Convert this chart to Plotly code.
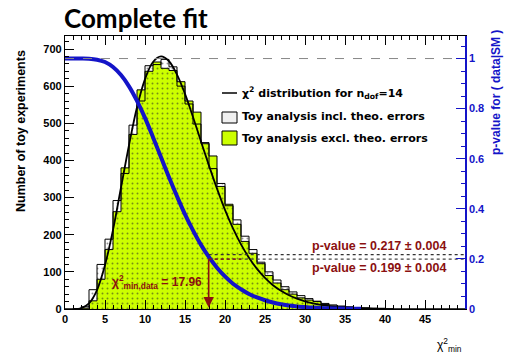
import plotly.graph_objects as go

# ---- data -------------------------------------------------------------
bin_edges = list(range(0, 51))

# toy analysis excluding theoretical errors (counts per unit bin)
counts_excl = [0, 0, 2, 22, 80, 160, 262, 380, 470, 590,
               640, 665, 648, 642, 612, 560, 530, 445, 412, 330,
               282, 228, 182, 150, 122, 90, 70, 52, 40, 30,
               24, 20, 12, 8, 6, 4, 3, 2, 1, 1,
               0, 0, 0, 0, 0, 0, 0, 0, 0, 0]

# toy analysis including theoretical errors
counts_incl = [0, 1, 6, 52, 120, 188, 292, 365, 495, 560,
               655, 658, 672, 652, 600, 552, 498, 448, 378, 338,
               278, 240, 196, 160, 126, 100, 78, 60, 46, 36,
               28, 21, 15, 11, 8, 6, 4, 3, 2, 1,
               1, 0, 0, 0, 0, 0, 0, 0, 0, 0]

# chi2 distribution for ndof = 14, normalised to the toys
chi2_x = list(range(1, 41))
chi2_y = [0.1, 2, 15, 51, 118, 213, 327, 441, 543, 619,
          665, 680, 667, 631, 579, 517, 451, 386, 324, 267,
          217, 174, 138, 108, 84, 64, 49, 37, 28, 20.5,
          15, 11, 8, 5.9, 4.2, 3, 2.2, 1.5, 1.1, 0.8]

# p-value as a function of chi2_min
pval_x = list(range(0, 38))
pval_y = [1.0, 1.0, 1.0, 0.9994, 0.9955, 0.986, 0.966, 0.934, 0.889, 0.831,
          0.763, 0.686, 0.606, 0.526, 0.450, 0.378, 0.314, 0.256, 0.207, 0.165,
          0.130, 0.101, 0.079, 0.060, 0.046, 0.035, 0.026, 0.019, 0.014, 0.010,
          0.0076, 0.0055, 0.004, 0.0029, 0.002, 0.0014, 0.001, 0.0007]

chi2_data = 17.96
pvalue_incl = 0.217
pvalue_excl = 0.199
pvalue_err = 0.004

x_ticks = list(range(0, 50, 5))
y_ticks = list(range(0, 800, 100))
y2_ticks = [0, 0.2, 0.4, 0.6, 0.8, 1.0]
y2_labels = ["0", "0.2", "0.4", "0.6", "0.8", "1"]

# ---- style ------------------------------------------------------------
FONT = "Liberation Sans"
WIDE = "DejaVu Sans"
GREEN = "#ccff00"
BLUE = "#1414c8"
DARKRED = "#8b1010"

W, H = 506, 356
L, R, T, B = 65, 41, 36, 47


def px(xp):
    return (xp - L) / (W - L - R)


def py(yp):
    return (H - B - yp) / (H - T - B)


fig = go.Figure()

# step histograms: repeat last value so the final bin closes
fig.add_trace(go.Scatter(
    x=bin_edges, y=counts_excl + [counts_excl[-1]], mode="lines",
    line=dict(shape="hv", color="black", width=1),
    fill="tozeroy", fillcolor=GREEN, showlegend=False, hoverinfo="skip"))

fig.add_trace(go.Scatter(
    x=bin_edges, y=counts_incl + [counts_incl[-1]], mode="lines",
    line=dict(shape="hv", color="black", width=1),
    fill="tozeroy", fillcolor="rgba(0,0,0,0)",
    fillpattern=dict(shape=".", fgcolor="#222222", bgcolor="rgba(0,0,0,0)",
                     size=5, solidity=0.12),
    showlegend=False, hoverinfo="skip"))

fig.add_trace(go.Scatter(
    x=chi2_x, y=chi2_y, mode="lines",
    line=dict(color="black", width=1.8, shape="spline"),
    showlegend=False, hoverinfo="skip"))

fig.add_trace(go.Scatter(
    x=pval_x, y=pval_y, yaxis="y2", mode="lines",
    line=dict(color=BLUE, width=4, shape="spline"),
    showlegend=False, hoverinfo="skip"))

# reference lines on the p-value axis
fig.add_trace(go.Scatter(
    x=[0, 50], y=[1, 1], yaxis="y2", mode="lines",
    line=dict(color="#888888", width=1, dash="dash"),
    showlegend=False, hoverinfo="skip"))
fig.add_trace(go.Scatter(
    x=[chi2_data, 50], y=[pvalue_incl, pvalue_incl], yaxis="y2", mode="lines",
    line=dict(color="#333333", width=1.2, dash="dot"),
    showlegend=False, hoverinfo="skip"))
fig.add_trace(go.Scatter(
    x=[chi2_data, 50], y=[pvalue_excl, pvalue_excl], yaxis="y2", mode="lines",
    line=dict(color="#444444", width=1.2, dash="dot"),
    showlegend=False, hoverinfo="skip"))
fig.add_trace(go.Scatter(
    x=[chi2_data, 22], y=[pvalue_excl, pvalue_excl], yaxis="y2", mode="lines",
    line=dict(color=DARKRED, width=1.2, dash="dot"),
    showlegend=False, hoverinfo="skip"))

tick_font = dict(family=FONT, size=11, color="black", weight="bold")

fig.update_layout(
    width=W, height=H,
    margin=dict(l=L, r=R, t=T, b=B),
    paper_bgcolor="white", plot_bgcolor="white",
    showlegend=False,
    xaxis=dict(
        range=[0, 50], tickvals=x_ticks, ticks="inside", ticklen=9,
        tickcolor="black", tickwidth=1, showline=True, linecolor="black",
        linewidth=1.2, mirror="ticks", showgrid=False, zeroline=False,
        tickfont=tick_font,
        minor=dict(dtick=1, ticks="inside", ticklen=4, tickcolor="black",
                   showgrid=False)),
    yaxis=dict(
        range=[0, 735], tickvals=y_ticks, ticks="inside", ticklen=9,
        tickcolor="black", showline=True, linecolor="black", linewidth=1.2,
        showgrid=False, zeroline=False, tickfont=tick_font,
        minor=dict(dtick=20, ticks="inside", ticklen=4, tickcolor="black",
                   showgrid=False)),
    yaxis2=dict(
        overlaying="y", side="right", range=[0, 1.09],
        tickvals=y2_ticks, ticktext=y2_labels, ticks="inside", ticklen=9,
        tickcolor=BLUE, showline=True, linecolor=BLUE, linewidth=1.5,
        showgrid=False, zeroline=False,
        tickfont=dict(family=FONT, size=11, color=BLUE, weight="bold"),
        minor=dict(dtick=0.05, ticks="inside", ticklen=4, tickcolor=BLUE,
                   showgrid=False)),
)

ann = []
ann.append(dict(text="<b>Complete fit</b>", x=px(62), y=py(18), xref="paper",
                yref="paper", xanchor="left", yanchor="middle",
                showarrow=False, font=dict(family="Lato", size=26, color="black")))
ann.append(dict(text="Number of toy experiments", x=px(21), y=py(131),
                xref="paper", yref="paper", textangle=-90, showarrow=False,
                xanchor="center", yanchor="middle",
                font=dict(family=FONT, size=12.5, color="black", weight="bold")))
ann.append(dict(text="p-value for ( data|SM )", x=px(496), y=py(92),
                xref="paper", yref="paper", textangle=-90, showarrow=False,
                xanchor="center", yanchor="middle",
                font=dict(family=FONT, size=12, color=BLUE, weight="bold")))
ann.append(dict(text="χ<sup>2</sup><sub>min</sub>", x=px(449), y=py(345),
                xref="paper", yref="paper", showarrow=False,
                xanchor="center", yanchor="middle",
                font=dict(family=FONT, size=12, color="black")))

# p-value labels
pv_font = dict(family=FONT, size=12.5, color=DARKRED, weight="bold")
ann.append(dict(text=f"p-value = {pvalue_incl:.3f} ± {pvalue_err:.3f}",
                x=px(448), y=py(246), xref="paper", yref="paper",
                xanchor="right", yanchor="middle", showarrow=False,
                font=pv_font))
ann.append(dict(text=f"p-value = {pvalue_excl:.3f} ± {pvalue_err:.3f}",
                x=px(448), y=py(268), xref="paper", yref="paper",
                xanchor="right", yanchor="middle", showarrow=False,
                font=pv_font))

# arrow marking the observed chi2
ann.append(dict(x=chi2_data, y=4, ax=chi2_data, ay=138, xref="x", yref="y",
                axref="x", ayref="y", text="", showarrow=True, arrowhead=2,
                arrowsize=1.3, arrowwidth=1.6, arrowcolor=DARKRED))
ann.append(dict(text=f"χ<sup>2</sup><sub>min,data</sub> = {chi2_data:.2f}",
                x=px(204), y=py(282), xref="paper", yref="paper",
                xanchor="right", yanchor="middle", showarrow=False,
                font=dict(family=FONT, size=12, color=DARKRED, weight="bold")))

# legend entries
leg_font = dict(family=WIDE, size=11, color="black", weight="bold")
ann.append(dict(text="χ<sup>2</sup> distribution for n<sub>dof</sub>=14",
                x=px(240), y=py(93), xref="paper", yref="paper",
                xanchor="left", yanchor="middle", showarrow=False, font=leg_font))
ann.append(dict(text="Toy analysis incl. theo. errors",
                x=px(240), y=py(117), xref="paper", yref="paper",
                xanchor="left", yanchor="middle", showarrow=False, font=leg_font))
ann.append(dict(text="Toy analysis excl. theo. errors",
                x=px(240), y=py(138), xref="paper", yref="paper",
                xanchor="left", yanchor="middle", showarrow=False, font=leg_font))
fig.update_layout(annotations=ann)

shapes = [
    dict(type="line", xref="paper", yref="paper", x0=px(222), x1=px(237),
         y0=py(93), y1=py(93), line=dict(color="black", width=1.5)),
    dict(type="rect", xref="paper", yref="paper", x0=px(222), x1=px(237),
         y0=py(123), y1=py(112), line=dict(color="black", width=1),
         fillcolor="#f0f0f0"),
    dict(type="rect", xref="paper", yref="paper", x0=px(222), x1=px(237),
         y0=py(145), y1=py(131), line=dict(color="black", width=1),
         fillcolor=GREEN),
]
fig.update_layout(shapes=shapes)

fig.write_html("out.html")
